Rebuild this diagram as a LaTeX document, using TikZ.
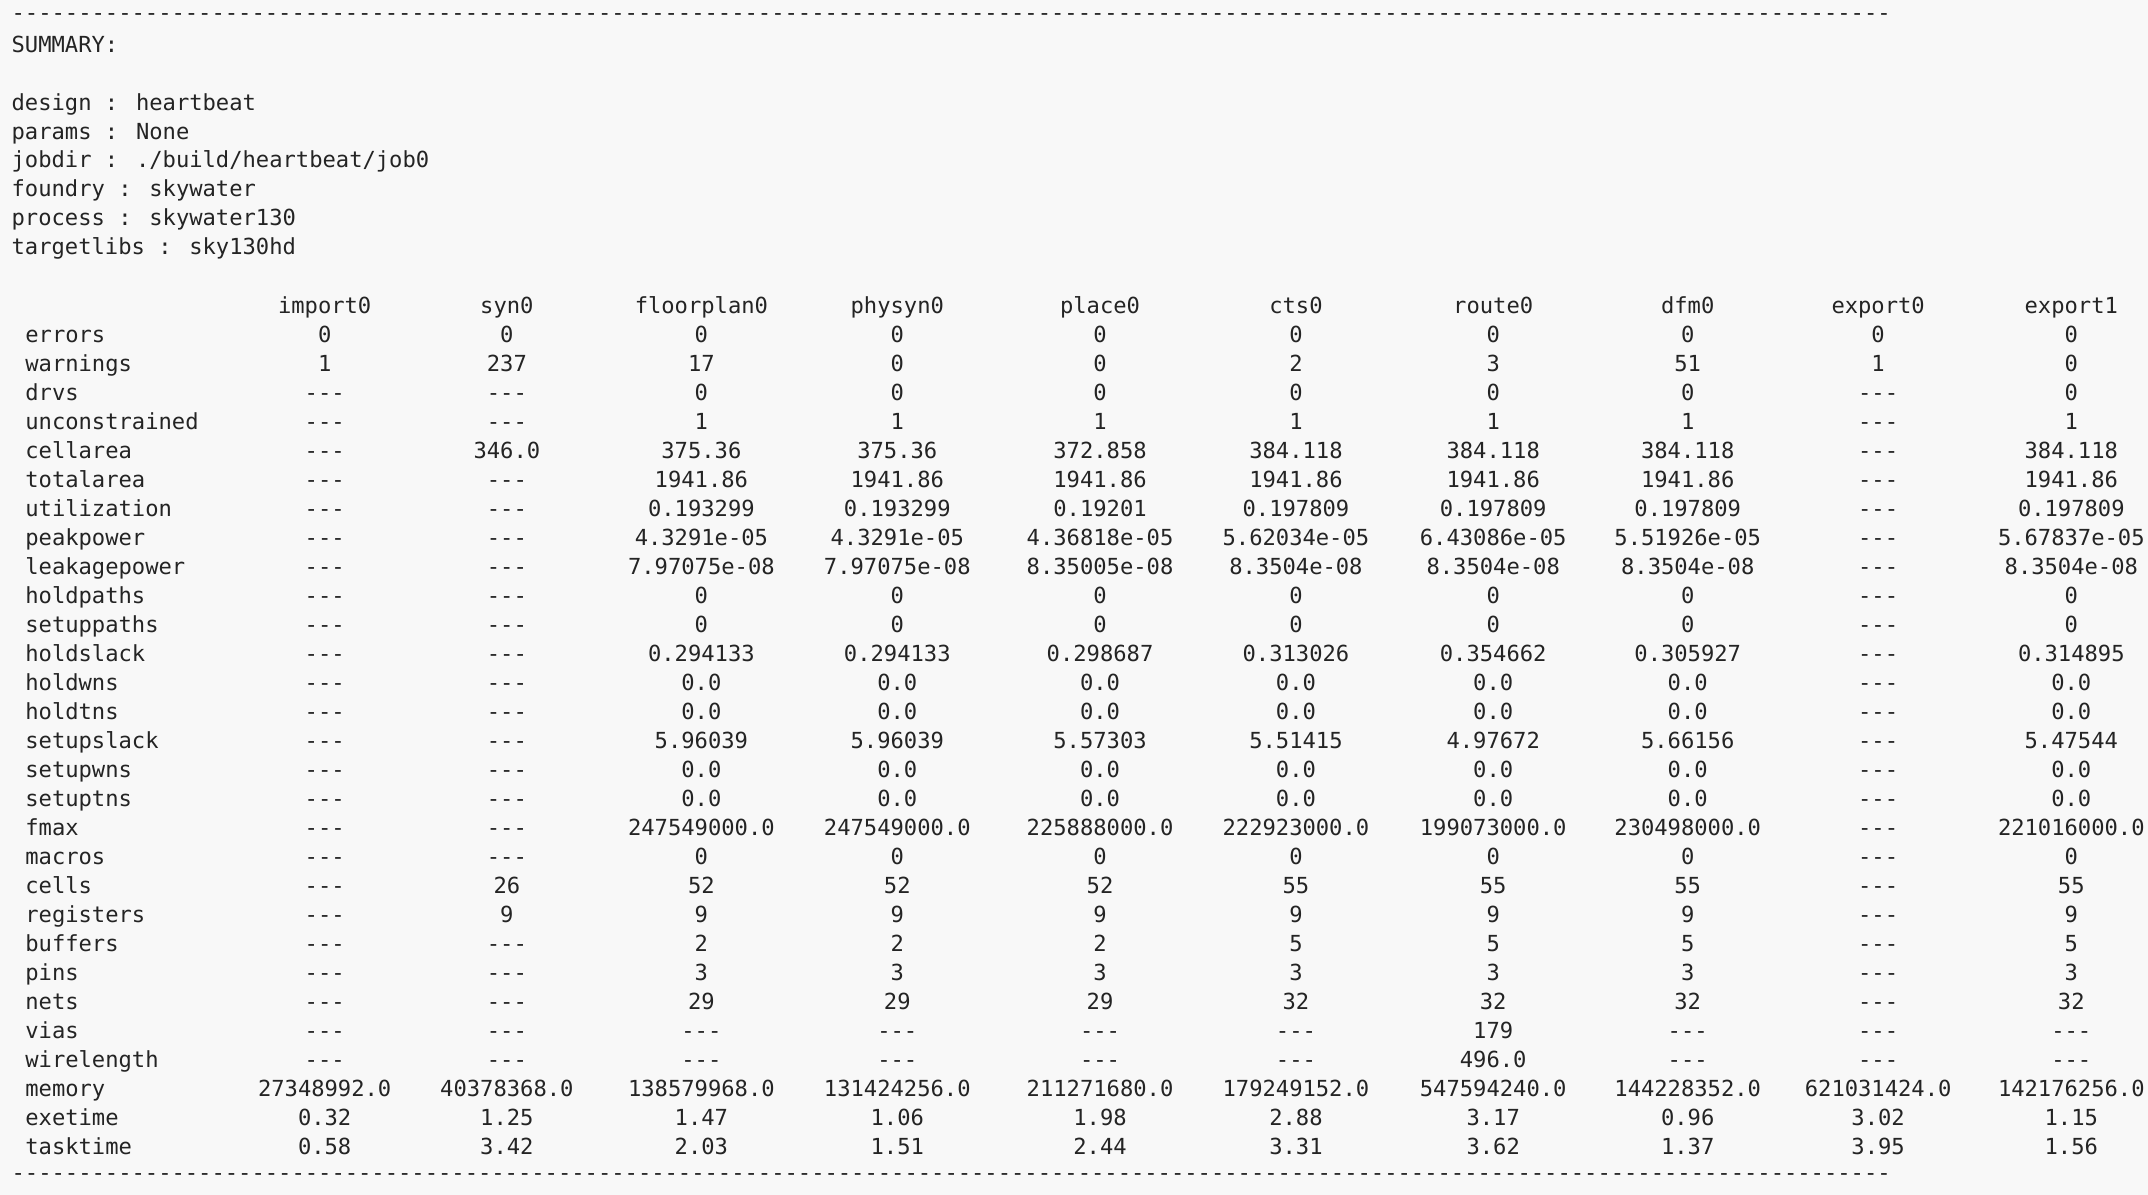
\documentclass[tikz,border=0pt]{standalone}
\usepackage{fontspec}
\newfontfamily\termfont{DejaVu Sans Mono}
\usetikzlibrary{positioning}
\definecolor{termbg}{HTML}{F8F8F8}
\definecolor{termfg}{HTML}{242424}
\newcommand{\dashline}{\foreach \d in {1,...,141}{-}}
\def\colx{{237,370,512,655,803,946,1090,1232,1371,1512}}

\begin{document}
\begin{tikzpicture}[x=0.0137cm, y=-0.0137cm,
		txt/.style={inner sep=0pt, text height=1.6ex, text depth=0.4ex, text=termfg,
			font=\termfont\fontsize{6.3}{8}\selectfont},
		lbl/.style={txt, anchor=west},
		cell/.style={txt, anchor=center}
	]
	\fill[termbg] (0,0) rectangle (1568,872);
	\useasboundingbox (0,0) rectangle (1568,872);
	
	% rules
	\node[lbl] (top) at (8,8) {\dashline};
	\node[lbl] (bottom) at (8,855) {\dashline};
	
	% summary
	\node[lbl] (summary) at (8,32) {SUMMARY:};
	\foreach \t [count=\i] in {design : heartbeat, params : None, jobdir : ./build/heartbeat/job0,
		foundry : skywater, process : skywater130, targetlibs : sky130hd}
	\node[lbl] (info-\i) at (8,53+21*\i) {\t};
	
	% header
	\foreach \h [count=\j] in {import0,syn0,floorplan0,physyn0,place0,cts0,route0,dfm0,export0,export1}{
		\pgfmathsetmacro\cx{\colx[\j-1]}
		\node[cell] (head-\j) at (\cx,222) {\h};
	}
	
	% metrics
	\foreach \lab/\vals [count=\i] in {
		errors/{0,0,0,0,0,0,0,0,0,0},
		warnings/{1,237,17,0,0,2,3,51,1,0},
		drvs/{---,---,0,0,0,0,0,0,---,0},
		unconstrained/{---,---,1,1,1,1,1,1,---,1},
		cellarea/{---,346.0,375.36,375.36,372.858,384.118,384.118,384.118,---,384.118},
		totalarea/{---,---,1941.86,1941.86,1941.86,1941.86,1941.86,1941.86,---,1941.86},
		utilization/{---,---,0.193299,0.193299,0.19201,0.197809,0.197809,0.197809,---,0.197809},
		peakpower/{---,---,4.3291e-05,4.3291e-05,4.36818e-05,5.62034e-05,6.43086e-05,5.51926e-05,---,5.67837e-05},
		leakagepower/{---,---,7.97075e-08,7.97075e-08,8.35005e-08,8.3504e-08,8.3504e-08,8.3504e-08,---,8.3504e-08},
		holdpaths/{---,---,0,0,0,0,0,0,---,0},
		setuppaths/{---,---,0,0,0,0,0,0,---,0},
		holdslack/{---,---,0.294133,0.294133,0.298687,0.313026,0.354662,0.305927,---,0.314895},
		holdwns/{---,---,0.0,0.0,0.0,0.0,0.0,0.0,---,0.0},
		holdtns/{---,---,0.0,0.0,0.0,0.0,0.0,0.0,---,0.0},
		setupslack/{---,---,5.96039,5.96039,5.57303,5.51415,4.97672,5.66156,---,5.47544},
		setupwns/{---,---,0.0,0.0,0.0,0.0,0.0,0.0,---,0.0},
		setuptns/{---,---,0.0,0.0,0.0,0.0,0.0,0.0,---,0.0},
		fmax/{---,---,247549000.0,247549000.0,225888000.0,222923000.0,199073000.0,230498000.0,---,221016000.0},
		macros/{---,---,0,0,0,0,0,0,---,0},
		cells/{---,26,52,52,52,55,55,55,---,55},
		registers/{---,9,9,9,9,9,9,9,---,9},
		buffers/{---,---,2,2,2,5,5,5,---,5},
		pins/{---,---,3,3,3,3,3,3,---,3},
		nets/{---,---,29,29,29,32,32,32,---,32},
		vias/{---,---,---,---,---,---,179,---,---,---},
		wirelength/{---,---,---,---,---,---,496.0,---,---,---},
		memory/{27348992.0,40378368.0,138579968.0,131424256.0,211271680.0,179249152.0,547594240.0,144228352.0,621031424.0,142176256.0},
		exetime/{0.32,1.25,1.47,1.06,1.98,2.88,3.17,0.96,3.02,1.15},
		tasktime/{0.58,3.42,2.03,1.51,2.44,3.31,3.62,1.37,3.95,1.56}}{
		\pgfmathsetmacro\ry{222+21.17*\i}
		\node[lbl] (row-\i) at (18,\ry) {\lab};
		\foreach \v [count=\j] in \vals {
			\pgfmathsetmacro\cx{\colx[\j-1]}
			\node[cell] (val-\i-\j) at (\cx,\ry) {\v};
		}
	}
\end{tikzpicture}
\end{document}
